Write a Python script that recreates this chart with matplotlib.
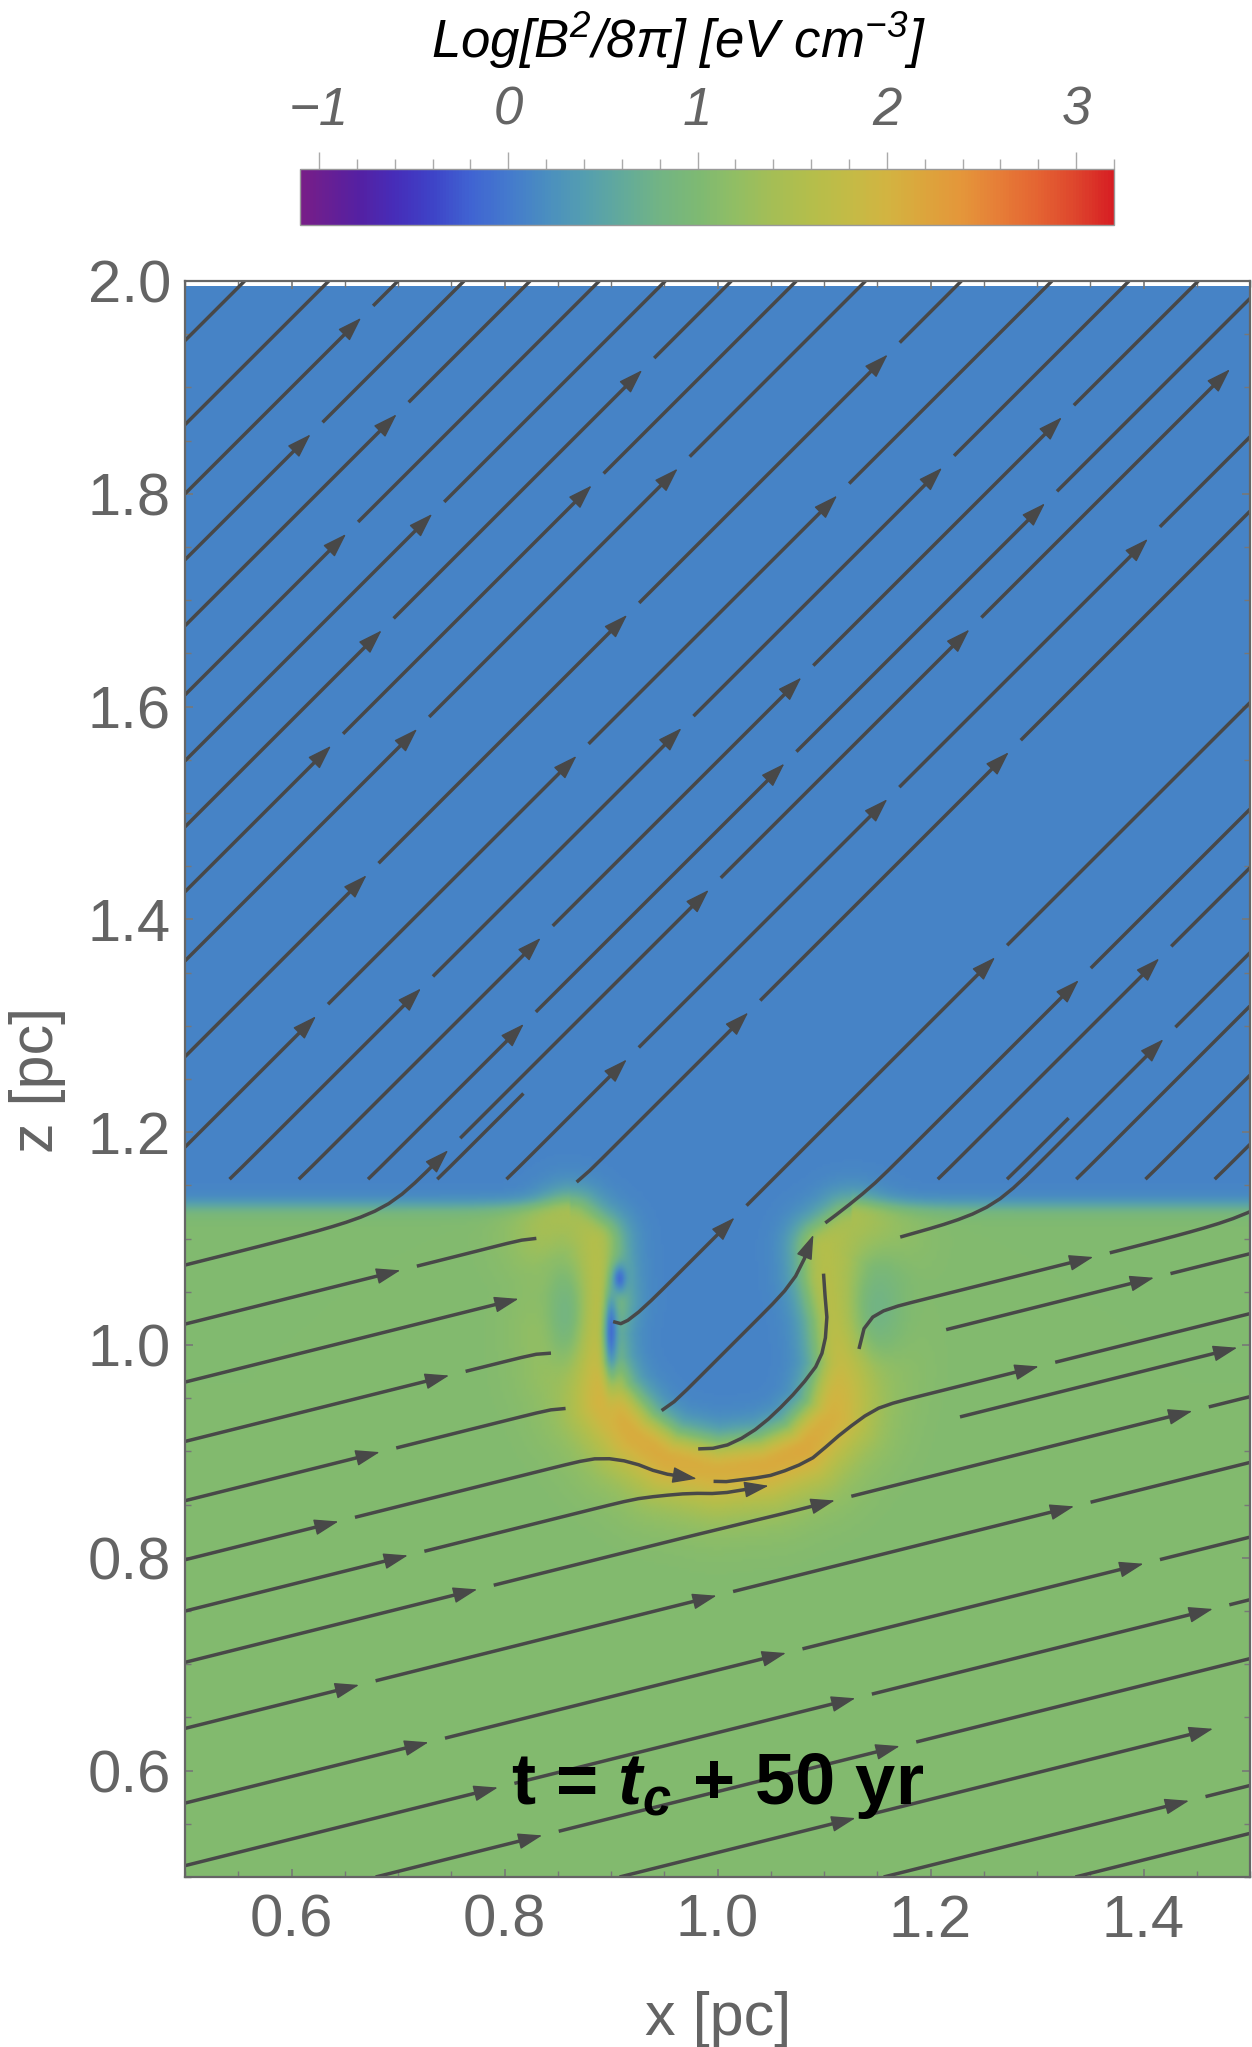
import numpy as np
import matplotlib
matplotlib.use('Agg')
import matplotlib.pyplot as plt
from matplotlib.colors import LinearSegmentedColormap
from matplotlib.path import Path
from matplotlib.patches import FancyArrowPatch
from matplotlib.collections import LineCollection
from matplotlib.ticker import MultipleLocator

plt.rcParams['font.family'] = ['Liberation Sans', 'DejaVu Sans']
plt.rcParams['mathtext.fontset'] = 'custom'
plt.rcParams['mathtext.rm'] = 'Liberation Sans:italic'
plt.rcParams['mathtext.it'] = 'Liberation Sans:italic'
plt.rcParams['mathtext.bf'] = 'Liberation Sans:bold'
plt.rcParams['mathtext.bfit'] = 'Liberation Sans:bold:italic'

# colour scale of Log[B^2/8pi] (Mathematica "Rainbow"-like)
cbar_vals = [-1.1, -0.8, -0.6, -0.4, -0.2, 0.0, 0.2, 0.4, 0.6, 0.8, 1.0,
             1.2, 1.4, 1.6, 1.8, 2.0, 2.2, 2.4, 2.6, 2.8, 3.0, 3.2]
cbar_rgb = [(120, 30, 135), (85, 32, 162), (70, 45, 185), (62, 68, 200),
            (64, 100, 210), (68, 122, 205), (74, 142, 192), (84, 158, 176),
            (98, 170, 155), (114, 180, 132), (125, 185, 115), (145, 190, 100),
            (165, 190, 85), (180, 190, 75), (195, 187, 70), (210, 180, 65),
            (220, 165, 60), (228, 150, 58), (230, 125, 55), (228, 100, 50),
            (222, 70, 45), (215, 30, 35)]
cbar_ticks = [-1, 0, 1, 2, 3]

# background levels
upper_level = 0.1
lower_level = 1.05
halo_level = 1.55
interface_z = 1.13

# compressed shell around the cavity: centre line from left horn to right horn
ring_x = [0.862, 0.880, 0.883, 0.877, 0.880, 0.893, 0.921, 0.952, 0.999,
          1.046, 1.081, 1.109, 1.121, 1.115, 1.106, 1.104, 1.125]
ring_z = [1.110, 1.095, 1.042, 1.011, 0.980, 0.948, 0.914, 0.892, 0.881,
          0.886, 0.901, 0.933, 0.980, 1.027, 1.064, 1.090, 1.106]
ring_peak = [1.55, 1.65, 1.8, 1.9, 1.95, 2.05, 2.1, 2.12, 2.08,
             2.12, 2.15, 2.05, 1.9, 1.75, 1.65, 1.6, 1.5]
n_left_wall = 6      # first ring points forming the left wall

# small patches near the horns: centre, half sizes, level
patch_x = [0.856, 1.152, 0.908, 0.900]
patch_z = [1.030, 1.035, 1.062, 1.012]
patch_sx = [0.016, 0.020, 0.005, 0.005]
patch_sz = [0.045, 0.040, 0.010, 0.030]
patch_level = [0.85, 0.8, -0.1, -0.1]

# field directions (x, z)
upper_dir = [1.0, 1.0]
lower_dir = [1.0, 0.25]

# where field lines start
seed_left_low = [0.7984, 0.7502, 0.7020, 0.6399, 0.5697, 0.5109,
                 0.8539, 0.9096, 0.9654, 1.0199, 1.0754]
seed_bottom = [0.683, 0.912, 1.160, 1.340]
seed_right_low = [(1.128, 0.977), (1.158, 1.097), (1.201, 1.011), (1.214, 0.929)]
seed_cup = [(0.902, 1.022), (0.934, 0.936), (0.968, 0.903), (1.065, 1.000)]
seed_left_up = [1.187, 1.272, 1.362, 1.427, 1.488, 1.550, 1.612, 1.677,
                1.739, 1.801, 1.866, 1.945]
seed_interface = [0.530, 0.595, 0.660, 0.725, 0.790, 0.855, 1.130, 1.195,
                  1.260, 1.325, 1.390, 1.455]

# ---- build the map ----
xs = np.linspace(0.5, 1.5, 401)
zs = np.linspace(0.5, 1.995, 599)
X, Z = np.meshgrid(xs, zs)
P = np.column_stack([X.ravel(), Z.ravel()])


def polyline_dist(pts, px, pz):
    """distance of pts to a polyline, nearest segment index and parameter"""
    best = np.full(len(pts), np.inf)
    idx = np.zeros(len(pts), dtype=int)
    par = np.zeros(len(pts))
    for i in range(len(px) - 1):
        p0 = np.array([px[i], pz[i]])
        seg = np.array([px[i + 1] - px[i], pz[i + 1] - pz[i]])
        t = np.clip(((pts - p0) @ seg) / (seg @ seg), 0, 1)
        d = np.hypot(*(pts - p0 - t[:, None] * seg).T)
        m = d < best
        best[m], idx[m], par[m] = d[m], i, t[m]
    return best, idx, par


rx, rz, rp = np.array(ring_x), np.array(ring_z), np.array(ring_peak)
dist, idx, par = polyline_dist(P, rx, rz)
peak = rp[idx] + (rp[idx + 1] - rp[idx]) * par
segx, segz = np.diff(rx)[idx], np.diff(rz)[idx]
tanx, tanz = segx / np.hypot(segx, segz), segz / np.hypot(segx, segz)
dist, peak, tanx, tanz = [a.reshape(X.shape) for a in (dist, peak, tanx, tanz)]

poly = list(zip(ring_x, ring_z)) + [(ring_x[-1], 1.3), (ring_x[0], 1.3)]
cup_path = Path(poly)
inside = cup_path.contains_points(P).reshape(X.shape)

up = 1 / (1 + np.exp(-(Z - interface_z) / 0.0045))
sd = np.where(inside, dist, -dist)
cup = 1 / (1 + np.exp(-(sd - 0.016) / 0.006))
blue_w = np.maximum(up, cup)
L = lower_level + (upper_level - lower_level) * blue_w

halo = np.exp(-0.5 * (dist / 0.038) ** 2) * (~inside) * (1 - up)
L = L + (halo_level - L) * halo * 0.85
core = np.exp(-0.5 * (dist / 0.021) ** 2)
L = L + (peak - L) * core
for px, pz, sx, sz, lv in zip(patch_x, patch_z, patch_sx, patch_sz, patch_level):
    g = np.exp(-0.5 * ((X - px) / sx) ** 2 - 0.5 * ((Z - pz) / sz) ** 2)
    L = L + (lv - L) * g

# field direction
du = np.array(upper_dir) / np.hypot(*upper_dir)
dl = np.array(lower_dir) / np.hypot(*lower_dir)
up_v = 1 / (1 + np.exp(-(Z - interface_z) / 0.008))
bw = np.maximum(up_v, cup)
U = dl[0] + (du[0] - dl[0]) * bw
V = dl[1] + (du[1] - dl[1]) * bw
rw = np.exp(-0.5 * (dist / 0.02) ** 2)
U = U * (1 - rw) + tanx * rw
V = V * (1 - rw) + tanz * rw

# ---- figure ----
cmap = LinearSegmentedColormap.from_list(
    'rainbow_mma',
    [((v - cbar_vals[0]) / (cbar_vals[-1] - cbar_vals[0]), np.array(c) / 255)
     for v, c in zip(cbar_vals, cbar_rgb)])

fig = plt.figure(figsize=(12.52, 20.47), dpi=100)
ax = fig.add_axes([185 / 1252, 170 / 2047, 1065 / 1252, 1596 / 2047])

im = ax.imshow(L, extent=(0.5, 1.5, 0.5, 1.995), origin='lower', cmap=cmap,
               vmin=cbar_vals[0], vmax=cbar_vals[-1], interpolation='bilinear',
               aspect='auto', zorder=1)

starts = ([(0.501, z) for z in seed_left_low] + [(x, 0.501) for x in seed_bottom]
          + seed_right_low + seed_cup + [(0.501, z) for z in seed_left_up]
          + [(x, interface_z + 0.015) for x in seed_interface])
sp = ax.streamplot(xs[::2], zs[::2], U[::2, ::2], V[::2, ::2],
                   start_points=np.array(starts), density=(1.6, 2.4),
                   integration_direction='forward', minlength=0.02,
                   maxlength=6.0, color='#484848', linewidth=2.2)
trajs = [np.asarray(s, dtype=float) for s in sp.lines.get_segments()]
sp.lines.remove()
for p in list(ax.patches):
    p.remove()


def edge_point(q, d):
    d = d / np.hypot(*d)
    ts = []
    if d[0] > 1e-9:
        ts.append((1.5 - q[0]) / d[0])
    if d[0] < -1e-9:
        ts.append((0.5 - q[0]) / d[0])
    if d[1] > 1e-9:
        ts.append((2.0 - q[1]) / d[1])
    if d[1] < -1e-9:
        ts.append((0.5 - q[1]) / d[1])
    t = min(ts)
    return q + t * d if 0 < t < 0.04 else None


wx, wz = rx[:n_left_wall], rz[:n_left_wall]
clean = []
for tr in trajs:
    if len(tr) < 3:
        continue
    # lines from the left stop at the outer side of the left wall
    dwall = polyline_dist(tr, wx, wz)[0]
    outside = ~cup_path.contains_points(tr)
    hit = np.nonzero((dwall < 0.032) & outside)[0]
    if len(hit):
        tr = tr[:hit[0]]
        if len(tr) < 3:
            continue
    k = min(4, len(tr) - 1)
    a = edge_point(tr[0], tr[0] - tr[k])
    if a is not None:
        tr = np.vstack([a, tr])
    b = edge_point(tr[-1], tr[-1] - tr[-1 - k])
    if b is not None:
        tr = np.vstack([tr, b])
    clean.append(tr)

# Mathematica-like look: pieces with an arrow head at the end of each piece
seg_len, gap = 0.33, 0.016
line_col = '#484848'
pieces = []
for k, tr in enumerate(clean):
    s = np.r_[0, np.cumsum(np.hypot(*np.diff(tr, axis=0).T))]
    total = s[-1]
    a = 0.0
    b = seg_len * (0.45 + 0.55 * ((k * 0.37) % 1))
    while a < total:
        full = b <= total
        e = min(b, total)
        if e - a > 0.02:
            end = e - 0.008 if full else e
            ss = np.r_[a, s[(s > a) & (s < end)], end]
            pieces.append(np.column_stack([np.interp(ss, s, tr[:, 0]),
                                           np.interp(ss, s, tr[:, 1])]))
            if full:
                tip = (np.interp(e, s, tr[:, 0]), np.interp(e, s, tr[:, 1]))
                tail = (np.interp(e - 0.015, s, tr[:, 0]),
                        np.interp(e - 0.015, s, tr[:, 1]))
                ax.add_patch(FancyArrowPatch(
                    tail, tip, arrowstyle='-|>,head_length=0.45,head_width=0.15',
                    mutation_scale=34, color=line_col, lw=1, shrinkA=0,
                    shrinkB=0, zorder=4))
        a = b + gap
        b = a + seg_len
ax.add_collection(LineCollection(pieces, colors=line_col, linewidths=2.5,
                                 capstyle='butt', zorder=3))

ax.set_xlim(0.5, 1.5)
ax.set_ylim(0.5, 2.0)
ax.set_xticks([0.6, 0.8, 1.0, 1.2, 1.4])
ax.set_yticks([0.6, 0.8, 1.0, 1.2, 1.4, 1.6, 1.8, 2.0])
ax.set_xticklabels(['0.6', '0.8', '1.0', '1.2', '1.4'])
ax.set_yticklabels(['0.6', '0.8', '1.0', '1.2', '1.4', '1.6', '1.8', '2.0'])
ax.xaxis.set_minor_locator(MultipleLocator(0.05))
ax.yaxis.set_minor_locator(MultipleLocator(0.05))
ax.tick_params(which='both', direction='in', top=True, right=True,
               color='#777777', labelsize=43, labelcolor='#646464')
ax.tick_params(axis='x', which='major', pad=12)
ax.tick_params(axis='y', which='major', pad=10)
ax.tick_params(which='major', length=6, width=1.2)
ax.tick_params(which='minor', length=4, width=1.0)
for sname in ax.spines:
    ax.spines[sname].set_color('#666666')
    ax.spines[sname].set_linewidth(1.6)
    ax.spines[sname].set_zorder(6)

fig.text(718 / 1252, 1 - 2020 / 2047, 'x [pc]', fontsize=44, color='#646464',
         ha='center', va='center')
fig.text(38 / 1252, 1 - 1080 / 2047, 'z [pc]', fontsize=44, color='#646464',
         ha='center', va='center', rotation=90)

ax.text(1.0, 0.569, r't = $\mathbfit{t}_{\mathbfit{c}}$ + 50 yr', fontsize=52,
        fontweight='bold', color='black', ha='center', va='baseline', zorder=5)

# colour bar
cax = fig.add_axes([300 / 1252, 1 - 225 / 2047, 814 / 1252, 56 / 2047])
cb = fig.colorbar(im, cax=cax, orientation='horizontal')
cb.set_ticks(cbar_ticks)
cax.xaxis.set_ticks_position('top')
cax.xaxis.set_minor_locator(MultipleLocator(0.2))
cax.tick_params(which='major', length=12, width=1.0, color='#aaaaaa',
                labelsize=38, labelcolor='#646464', pad=12)
cax.tick_params(which='minor', length=7, width=1.0, color='#aaaaaa')
cb.outline.set_edgecolor('#999999')
cb.outline.set_linewidth(1.0)
for t in cax.get_xticklabels():
    t.set_fontstyle('italic')

fig.text(678 / 1252, 1 - 40 / 2047, r'Log[B$^{2}$/8π] [eV cm$^{-3}$]',
         fontsize=38, style='italic', color='black', ha='center', va='center')

fig.savefig('out.png', dpi=100)
